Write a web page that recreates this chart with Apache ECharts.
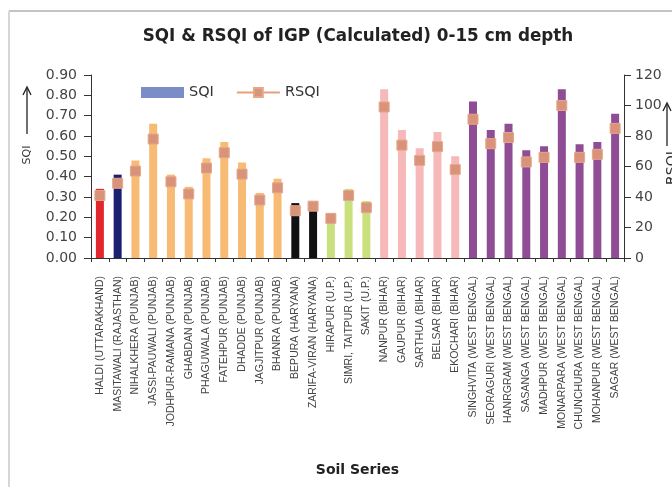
<!DOCTYPE html>
<html>
<head>
<meta charset="utf-8">
<script src="https://cdn.jsdelivr.net/npm/echarts@6/dist/echarts.min.js"></script>
<style>
html,body{margin:0;padding:0;background:#fff;}
#chart{width:672px;height:487px;}
</style>
</head>
<body>
<div id="chart"></div>
<script>
var categories = [
  'HALDI (UTTARAKHAND)', 'MASITAWALI (RAJASTHAN)', 'NIHALKHERA (PUNJAB)', 'JASSI-PAUWALI (PUNJAB)',
  'JODHPUR-RAMANA (PUNJAB)', 'GHABDAN (PUNJAB)', 'PHAGUWALA (PUNJAB)', 'FATEHPUR (PUNJAB)',
  'DHADDE (PUNJAB)', 'JAGJITPUR (PUNJAB)', 'BHANRA (PUNJAB)', 'BEPURA (HARYANA)',
  'ZARIFA-VIRAN (HARYANA)', 'HIRAPUR (U.P.)', 'SIMRI, TAITPUR (U.P.)', 'SAKIT (U.P.)',
  'NANPUR (BIHAR)', 'GAUPUR (BIHAR)', 'SARTHUA (BIHAR)', 'BELSAR (BIHAR)', 'EKOCHARI (BIHAR)',
  'SINGHVITA (WEST BENGAL)', 'SEORAGURI (WEST BENGAL)', 'HANRGRAM (WEST BENGAL)',
  'SASANGA (WEST BENGAL)', 'MADHPUR (WEST BENGAL)', 'MONARPARA (WEST BENGAL)',
  'CHUNCHURA (WEST BENGAL)', 'MOHANPUR (WEST BENGAL)', 'SAGAR (WEST BENGAL)'
];
var regionOf = [
  'UK', 'RJ', 'PB', 'PB', 'PB', 'PB', 'PB', 'PB', 'PB', 'PB', 'PB', 'HR', 'HR', 'UP', 'UP', 'UP',
  'BR', 'BR', 'BR', 'BR', 'BR', 'WB', 'WB', 'WB', 'WB', 'WB', 'WB', 'WB', 'WB', 'WB'
];
var sqi = [0.34, 0.41, 0.48, 0.66, 0.41, 0.35, 0.49, 0.57, 0.47, 0.32, 0.39, 0.27, 0.26, 0.20, 0.34, 0.28,
  0.83, 0.63, 0.54, 0.62, 0.50, 0.77, 0.63, 0.66, 0.53, 0.55, 0.83, 0.56, 0.57, 0.71];
var rsqi = [41, 49, 57, 78, 50, 42, 59, 69, 55, 38, 46, 31, 34, 26, 41, 33,
  99, 74, 64, 73, 58, 91, 75, 79, 63, 66, 100, 66, 68, 85];
var leftTicks = [0, 0.9, 0.1];
var rightTicks = [0, 120, 20];

var regionColor = {
  UK: '#e2262b', RJ: '#1d2070', PB: '#f8bb74', HR: '#111111',
  UP: '#c9e07c', BR: '#f6b8b8', WB: '#8f4d96'
};

var FONT = 'DejaVu Sans, Liberation Sans, Arial, sans-serif';
var chart = echarts.init(document.getElementById('chart'), null, {renderer: 'canvas'});
var barData = sqi.map(function (v, i) {
  return {value: v, itemStyle: {color: regionColor[regionOf[i]]}};
});

var option = {
  backgroundColor: '#ffffff',
  animation: false,
  textStyle: {fontFamily: FONT},
  title: {
    text: 'SQI & RSQI of IGP (Calculated) 0-15 cm depth',
    left: 353, top: 23, textAlign: 'center',
    textStyle: {fontSize: 16.8, fontWeight: 'bold', color: '#222', fontFamily: FONT}
  },
  legend: {
    left: 136, top: 80,
    itemWidth: 43, itemHeight: 11, itemGap: 22,
    textStyle: {fontSize: 14.5, color: '#333', fontFamily: FONT},
    data: [
      {name: 'SQI', icon: 'rect', itemStyle: {color: '#7b8dc6'}},
      {name: 'RSQI', lineStyle: {opacity: 1, width: 2, color: '#e8a07a'}, itemStyle: {color: '#d9957a'}}
    ]
  },
  grid: {left: 91, right: 48, top: 75, bottom: 229, containLabel: false},
  xAxis: {
    type: 'category',
    data: categories,
    axisLine: {lineStyle: {color: '#333', width: 1}},
    axisTick: {show: true, length: 4, lineStyle: {color: '#333'}},
    axisLabel: {rotate: 90, interval: 0, fontSize: 10.5, color: '#444', margin: 18, fontFamily: 'Liberation Sans, Arial, sans-serif'},
    name: 'Soil Series',
    nameLocation: 'middle',
    nameGap: 205,
    nameTextStyle: {fontSize: 14, fontWeight: 'bold', color: '#222', fontFamily: FONT}
  },
  yAxis: [
    {
      type: 'value', min: leftTicks[0], max: leftTicks[1], interval: leftTicks[2],
      axisLine: {show: true, lineStyle: {color: '#333'}},
      axisTick: {show: true, length: 7, lineStyle: {color: '#333'}},
      axisLabel: {fontSize: 14, color: '#444', margin: 14, fontFamily: FONT, formatter: function (v) { return v.toFixed(2); }},
      splitLine: {show: false}
    },
    {
      type: 'value', min: rightTicks[0], max: rightTicks[1], interval: rightTicks[2], position: 'right',
      axisLine: {show: true, lineStyle: {color: '#333'}},
      axisTick: {show: true, length: 7, lineStyle: {color: '#333'}},
      axisLabel: {fontSize: 14, color: '#444', margin: 11, fontFamily: FONT},
      splitLine: {show: false}
    }
  ],
  series: [
    {
      name: 'SQI', type: 'bar', yAxisIndex: 0, data: barData, barWidth: 8,
      itemStyle: {color: '#7b8dc6'}
    },
    {
      name: 'RSQI', type: 'line', yAxisIndex: 1, data: rsqi,
      symbol: 'rect', symbolSize: 10, showSymbol: true,
      lineStyle: {opacity: 0, width: 0},
      itemStyle: {color: '#d9937a', borderColor: '#e4a88a', borderWidth: 1, opacity: 1},
      z: 5
    }
  ],
  graphic: [
    {type: 'line', shape: {x1: 9, y1: 11, x2: 672, y2: 11}, style: {stroke: '#c4c4c4', lineWidth: 2}, silent: true},
    {type: 'line', shape: {x1: 9, y1: 11, x2: 9, y2: 487}, style: {stroke: '#d6d6d6', lineWidth: 2}, silent: true},
    {type: 'text', x: 27, y: 155, rotation: Math.PI / 2,
      style: {text: 'SQI', fill: '#333', align: 'center', verticalAlign: 'middle', font: '11px DejaVu Sans, sans-serif'}},
    {type: 'line', shape: {x1: 27, y1: 134, x2: 27, y2: 88}, style: {stroke: '#222', lineWidth: 1.3}},
    {type: 'polyline', shape: {points: [[23, 95], [27, 87], [31, 95]]}, style: {stroke: '#222', lineWidth: 1.3, fill: null}},
    {type: 'line', shape: {x1: 667, y1: 146, x2: 667, y2: 104}, style: {stroke: '#222', lineWidth: 1.3}},
    {type: 'polyline', shape: {points: [[663, 111], [667, 103], [671, 111]]}, style: {stroke: '#222', lineWidth: 1.3, fill: null}},
    {type: 'text', x: 672, y: 168, rotation: Math.PI / 2,
      style: {text: 'RSQI', fill: '#333', align: 'center', verticalAlign: 'middle', font: '14px DejaVu Sans, sans-serif'}}
  ]
};
chart.setOption(option);
</script>
</body>
</html>
